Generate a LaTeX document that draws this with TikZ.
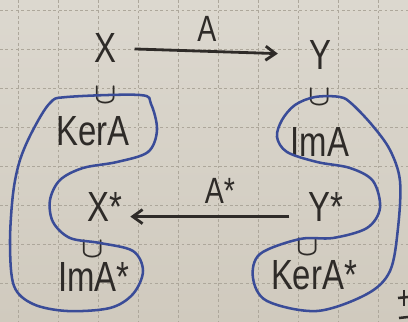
\documentclass[tikz,border=0pt]{standalone}
\usepackage{fontspec}
\setmainfont{Liberation Sans}
\newfontfamily\hand[FakeStretch=0.78]{Liberation Sans}
\usetikzlibrary{arrows.meta}
\definecolor{papertop}{HTML}{DCD8CF}
\definecolor{paperbot}{HTML}{D0CABE}
\definecolor{gridc}{HTML}{ADA79B}
\definecolor{ink}{HTML}{2E2B28}
\definecolor{bink}{HTML}{3A4C98}
\tikzset{
  gridline/.style={gridc, line width=0.7pt, dash pattern=on 2pt off 1.8pt},
  lbl/.style={font=\hand\fontsize{30}{30}\selectfont, text=ink, inner sep=0pt},
  small/.style={font=\hand\fontsize{26}{26}\selectfont, text=ink, inner sep=0pt},
  cupn/.style={font=\boldmath\fontsize{20}{20}\selectfont, text=ink, inner sep=0pt,
    text height=9.5pt, text depth=0pt},
  arr/.style={draw=ink, line width=2pt, -{Straight Barb[length=7pt,width=10pt,line width=2pt]}},
  loop/.style={draw=bink, line width=1.8pt},
}
\begin{document}
\begin{tikzpicture}[x=0.25mm,y=-0.25mm]
\useasboundingbox (0,0) rectangle (408,322);
\shade[top color=papertop, bottom color=paperbot] (0,0) rectangle (408,322);
\foreach \x in {18,58,...,378} \draw[gridline] (\x,0) -- (\x,322);
\foreach \y in {10,49,...,300} \draw[gridline] (0,\y) -- (408,\y);

% top row
\node[lbl] (X) at (105,48) {X};
\node[lbl] (Y) at (320,55) {Y};
\node[small] (A) at (207,29) {A};
\draw[arr, shorten <=13pt, shorten >=22pt] (X) -- (Y);

\node[cupn] (c1) at (106,97) {$\cup$};
\node[lbl] (kerA) at (93,131) {KerA};
\node[cupn] (c2) at (320,99) {$\cup$};
\node[lbl] (imA) at (320,142) {ImA};

% bottom row
\node[lbl] (Xs) at (105,207) {X*};
\node[lbl] (Ys) at (326,207) {Y*};
\node[small] (As) at (220,191) {A*};
\draw[arr, shorten <=26pt, shorten >=18pt] ([yshift=-2.4mm]Ys.center) -- ([yshift=-2.4mm]Xs.center);

\node[cupn] (c3) at (93,251) {$\cup$};
\node[lbl] (imAs) at (94,277) {ImA*};
\node[cupn] (c4) at (308,249) {$\cup$};
\node[lbl] (kerAs) at (314,275) {KerA*};

% blue loops
\draw[loop] plot[smooth cycle, tension=0.55] coordinates {
 (33,130) (50,103) (67,97) (140,95) (151,104) (157,130) (148,152) (117,162)
 (83,168) (60,180) (50,200) (53,222) (70,238) (100,243) (133,251) (143,271)
 (133,294) (110,308) (67,311) (33,304) (14,286) (10,244) (13,194) (20,160)};
\draw[loop] plot[smooth cycle, tension=0.55] coordinates {
 (277,137) (282,120) (295,105) (315,97) (340,97) (352,104) (372,125) (390,150)
 (400,181) (398,228) (390,271) (367,294) (317,311) (267,301) (253,278) (260,254)
 (300,239) (333,238) (367,228) (380,208) (373,181) (350,168) (317,162) (287,152)};

% scrap mark at bottom right
\draw[ink, line width=1.8pt] (404,290) -- (404,306);
\draw[ink, line width=1.8pt] (398,298) -- (408,297);
\draw[ink, line width=1.8pt] (399,318) -- (408,317);
\end{tikzpicture}
\end{document}
